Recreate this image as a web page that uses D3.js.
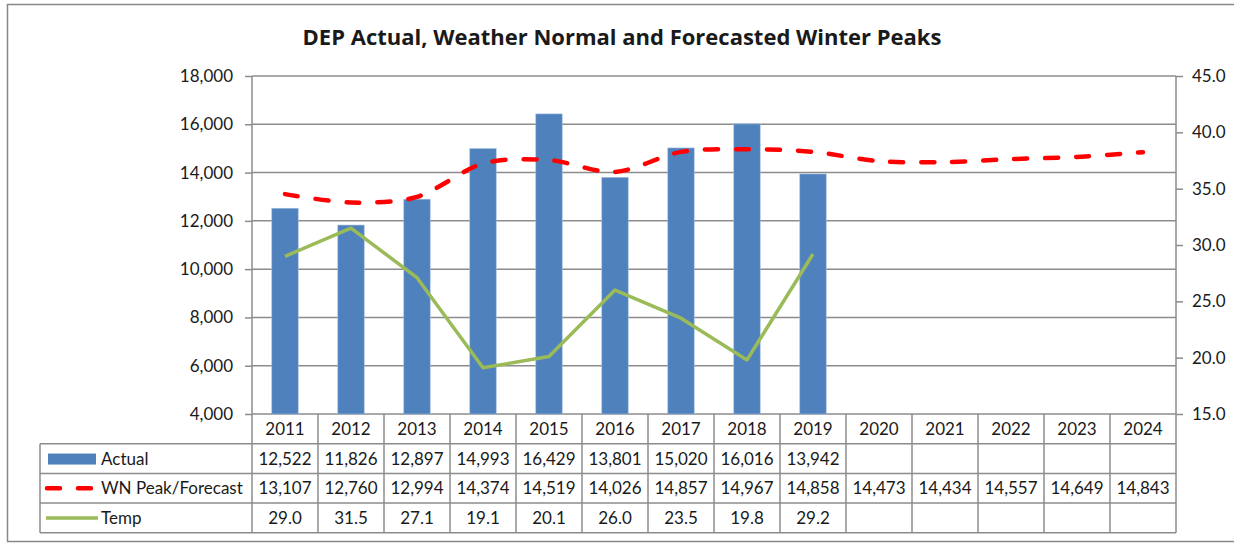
<!DOCTYPE html>
<html>
<head>
<meta charset="utf-8">
<script src="https://cdn.jsdelivr.net/npm/d3@7"></script>
<style>
  body { margin: 0; background: #fff; }
  svg text { font-family: Lato, "Open Sans", sans-serif; fill: #1a1a1a; }
</style>
</head>
<body>
<div id="chart"></div>
<script>
// DEP winter peaks - combo chart with data table

const years = ['2011', '2012', '2013', '2014', '2015', '2016', '2017', '2018', '2019', '2020', '2021', '2022', '2023', '2024'];
const actual = [12522, 11826, 12897, 14993, 16429, 13801, 15020, 16016, 13942];
const wnPeak = [13107, 12760, 12994, 14374, 14519, 14026, 14857, 14967, 14858, 14473, 14434, 14557, 14649, 14843];
const temp = [29.0, 31.5, 27.1, 19.1, 20.1, 26.0, 23.5, 19.8, 29.2];
const leftTicks = [4000, 6000, 8000, 10000, 12000, 14000, 16000, 18000];
const rightTicks = [15, 20, 25, 30, 35, 40, 45];
const seriesNames = ['Actual', 'WN Peak/Forecast', 'Temp'];

const width = 1234, height = 543;
const plot = { left: 252, right: 1176, top: 76, bottom: 414 };
const rowH = 29.7;
const tableLeft = 40;
const gridColor = '#8c8c8c';
const blue = '#4f81bd', red = '#ff0000', green = '#9bbb59';
const fmt = d3.format(',');
const fs = 17;

let svg = d3.select('#chart').append('svg')
  .attr('width', width).attr('height', height);

// outer frame
svg.append('rect')
  .attr('x', 7.5).attr('y', 4.5).attr('width', 1240).attr('height', 537)
  .attr('fill', 'none').attr('stroke', '#888').attr('stroke-width', 1.5);

// title
svg.append('text')
  .attr('x', 622).attr('y', 45)
  .attr('text-anchor', 'middle')
  .attr('font-size', 22).attr('font-weight', 'bold')
  .style('font-family', '"Open Sans", Lato, sans-serif')
  .text('DEP Actual, Weather Normal and Forecasted Winter Peaks');

// SCALES
let xScale = d3.scaleBand().domain(years).range([plot.left, plot.right]).padding(0);
let yLeft = d3.scaleLinear().domain([4000, 18000]).range([plot.bottom, plot.top]);
let yRight = d3.scaleLinear().domain([15, 45]).range([plot.bottom, plot.top]);

// grid lines
svg.append('g').attr('class', 'grid-lines')
  .selectAll('line').data(leftTicks).join('line')
  .attr('x1', plot.left).attr('x2', plot.right)
  .attr('y1', d => yLeft(d)).attr('y2', d => yLeft(d))
  .attr('stroke', gridColor).attr('stroke-width', 1.5);

// AXES
let yAxisL = d3.axisLeft(yLeft).tickValues(leftTicks).tickFormat(fmt).tickSize(7).tickPadding(12);
let yAxisR = d3.axisRight(yRight).tickValues(rightTicks).tickFormat(d3.format('.1f')).tickSize(7).tickPadding(9);

svg.append('g').attr('class', 'axis y-left')
  .attr('transform', `translate(${plot.left},0)`)
  .call(yAxisL);
svg.append('g').attr('class', 'axis y-right')
  .attr('transform', `translate(${plot.right},0)`)
  .call(yAxisR);

svg.selectAll('.axis path, .axis line').attr('stroke', gridColor).attr('stroke-width', 1.5);
svg.selectAll('.axis path').attr('d', function () {
  return `M0,${plot.top}V${plot.bottom}`;
});
svg.selectAll('.axis text').attr('font-size', fs).attr('font-family', 'Lato, sans-serif').attr('fill', '#1a1a1a');

// bars
let bw = xScale.bandwidth() * 0.4;
svg.append('g').selectAll('rect').data(actual).join('rect')
  .attr('x', (d, i) => xScale(years[i]) + (xScale.bandwidth() - bw) / 2)
  .attr('y', d => yLeft(d))
  .attr('width', bw)
  .attr('height', d => yLeft(4000) - yLeft(d))
  .attr('fill', blue)
  .attr('stroke', '#9fbde0').attr('stroke-width', 0.6);

// WN peak / forecast line (smoothed, dashed)
let cx = (d, i) => xScale(years[i]) + xScale.bandwidth() / 2;
let wnLine = d3.line().x(cx).y(d => yLeft(d)).curve(d3.curveCardinal.tension(0.1));
svg.append('path').datum(wnPeak)
  .attr('d', wnLine)
  .attr('fill', 'none').attr('stroke', red)
  .attr('stroke-width', 4.5).attr('stroke-linecap', 'round')
  .attr('stroke-dasharray', '13,18');

// temperature line
let tempLine = d3.line().x(cx).y(d => yRight(d));
svg.append('path').datum(temp)
  .attr('d', tempLine)
  .attr('fill', 'none').attr('stroke', green)
  .attr('stroke-width', 3.5).attr('stroke-linejoin', 'round');

// DATA TABLE
let table = svg.append('g').attr('class', 'table');
let tTop = plot.bottom;
let rowsY = [tTop, tTop + rowH, tTop + 2 * rowH, tTop + 3 * rowH, tTop + 4 * rowH];

// horizontal rules
table.selectAll('line.h').data(rowsY.slice(1)).join('line')
  .attr('class', 'h')
  .attr('x1', tableLeft).attr('x2', plot.right)
  .attr('y1', d => d).attr('y2', d => d)
  .attr('stroke', gridColor).attr('stroke-width', 1.5);

// vertical rules
let colEdges = years.map(y => xScale(y)).concat([plot.right]);
table.selectAll('line.v').data(colEdges).join('line')
  .attr('class', 'v')
  .attr('x1', d => d).attr('x2', d => d)
  .attr('y1', tTop).attr('y2', rowsY[4])
  .attr('stroke', gridColor).attr('stroke-width', 1.5);
table.append('line')
  .attr('x1', tableLeft).attr('x2', tableLeft)
  .attr('y1', rowsY[1]).attr('y2', rowsY[4])
  .attr('stroke', gridColor).attr('stroke-width', 1.5);

// header years
table.selectAll('text.yr').data(years).join('text')
  .attr('class', 'yr')
  .attr('x', d => xScale(d) + xScale.bandwidth() / 2)
  .attr('y', tTop + rowH / 2 + 6)
  .attr('text-anchor', 'middle').attr('font-size', fs)
  .text(d => d);

let rows = [
  actual.map(fmt),
  wnPeak.map(fmt),
  temp.map(d => d.toFixed(1))
];
rows.forEach((vals, r) => {
  table.selectAll(`text.r${r}`).data(vals).join('text')
    .attr('class', `r${r}`)
    .attr('x', (d, i) => xScale(years[i]) + xScale.bandwidth() / 2)
    .attr('y', rowsY[r + 1] + rowH / 2 + 6)
    .attr('text-anchor', 'middle').attr('font-size', fs)
    .text(d => d);
});

// legend keys in the table
let keyY = r => rowsY[r + 1] + rowH / 2;
table.append('rect')
  .attr('x', 48).attr('y', keyY(0) - 5).attr('width', 48).attr('height', 11)
  .attr('fill', blue);
table.append('line')
  .attr('x1', 47).attr('x2', 96).attr('y1', keyY(1)).attr('y2', keyY(1))
  .attr('stroke', red).attr('stroke-width', 4.5).attr('stroke-linecap', 'round')
  .attr('stroke-dasharray', '13,18');
table.append('line')
  .attr('x1', 46).attr('x2', 98).attr('y1', keyY(2)).attr('y2', keyY(2))
  .attr('stroke', green).attr('stroke-width', 3.5);
table.selectAll('text.lg').data(seriesNames).join('text')
  .attr('class', 'lg')
  .attr('x', 101)
  .attr('y', (d, i) => keyY(i) + 6)
  .attr('font-size', fs)
  .text(d => d);
</script>
</body>
</html>
